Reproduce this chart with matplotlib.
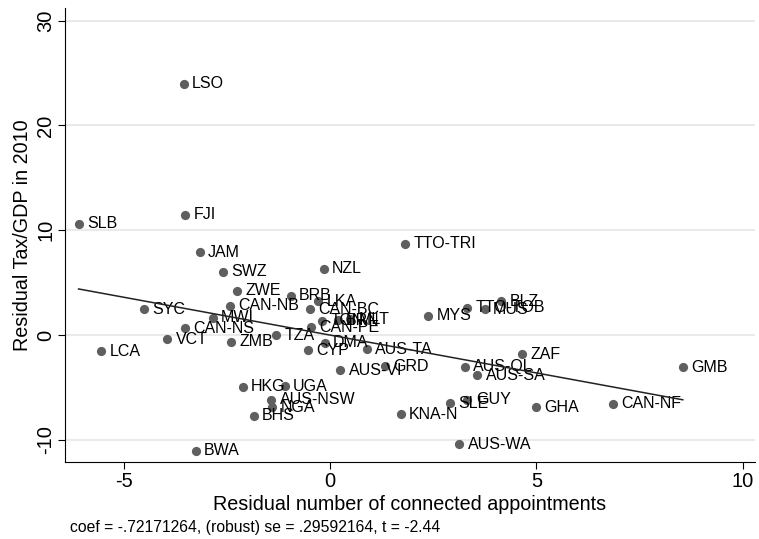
import matplotlib.pyplot as plt
import numpy as np

plt.rcParams['font.family'] = ['Liberation Sans', 'DejaVu Sans']
plt.rcParams['axes.unicode_minus'] = False

# residualised data
labels = ['LSO', 'FJI', 'SLB', 'JAM', 'TTO-TRI', 'SWZ', 'NZL', 'ZWE', 'BRB', 'LKA',
          'CAN-NB', 'CAN-BC', 'SYC', 'MWI', 'TON', 'BRN', 'MLT', 'MYS', 'TTO-TOB',
          'BLZ', 'MUS', 'CAN-NS', 'CAN-PE', 'VCT', 'TZA', 'ZMB', 'DMA', 'LCA', 'CYP',
          'AUS-TA', 'ZAF', 'GMB', 'GRD', 'AUS-VI', 'AUS-QL', 'AUS-SA', 'HKG', 'UGA',
          'AUS-NSW', 'NGA', 'BHS', 'KNA-N', 'SLE', 'GUY', 'GHA', 'CAN-NF', 'BWA',
          'AUS-WA']
x_resid = [-3.55, -3.52, -6.10, -3.16, 1.82, -2.60, -0.16, -2.26, -0.96, -0.29,
           -2.42, -0.48, -4.51, -2.85, -0.20, 0.18, 0.48, 2.38, 3.33,
           4.15, 3.75, -3.52, -0.47, -3.95, -1.31, -2.41, -0.13, -5.55, -0.54,
           0.89, 4.65, 8.55, 1.33, 0.25, 3.27, 3.57, -2.12, -1.10,
           -1.43, -1.40, -1.85, 1.71, 2.91, 3.33, 4.98, 6.85, -3.26,
           3.13]
y_resid = [24.0, 11.5, 10.6, 7.9, 8.73, 6.03, 6.35, 4.22, 3.74, 3.24,
           2.79, 2.48, 2.45, 1.65, 1.36, 1.43, 1.52, 1.84, 2.63,
           3.24, 2.45, 0.64, 0.76, -0.41, 0.0, -0.63, -0.73, -1.52, -1.43,
           -1.37, -1.81, -3.08, -2.95, -3.37, -3.02, -3.81, -4.95, -4.86,
           -6.19, -6.89, -7.71, -7.55, -6.50, -6.19, -6.89, -6.57, -11.05,
           -10.41]

coef = -0.72171264
se = 0.29592164
tstat = -2.44

fig = plt.figure(figsize=(7.59, 5.39), dpi=100)
ax = fig.add_axes([0.0856, 0.143, 0.909, 0.842])

ax.set_xlim(-6.43, 10.3)
ax.set_ylim(-12.1, 31.2)

ax.set_yticks([-10, 0, 10, 20, 30])
ax.set_xticks([-5, 0, 5, 10])
ax.set_yticklabels(['-10', '0', '10', '20', '30'], rotation=90, va='center')
ax.grid(axis='y', color='#eaeaea', lw=1.5)
ax.set_axisbelow(True)

for s in ['top', 'right']:
    ax.spines[s].set_visible(False)
ax.tick_params(direction='out', length=5, labelsize=14.5, colors='black')
ax.tick_params(axis='y', pad=2)
ax.tick_params(axis='x', pad=2)

ax.scatter(x_resid, y_resid, s=44, color='#5f5f5f', zorder=3, linewidths=0)
for lab, xv, yv in zip(labels, x_resid, y_resid):
    ax.annotate(lab, (xv, yv), xytext=(6, 0), textcoords='offset points',
                va='center', ha='left', fontsize=11.5, zorder=4)

xs = np.array([min(x_resid), max(x_resid)])
ax.plot(xs, coef * xs, color='#222222', lw=1.1, zorder=5)

ax.set_xlabel('Residual number of connected appointments', fontsize=14.2, labelpad=3)
ax.set_ylabel('Residual Tax/GDP in 2010', fontsize=14.2, labelpad=3)

note = 'coef = %.8f, (robust) se = %.8f, t = %.2f' % (coef, se, tstat)
note = note.replace('-0.', '-.').replace('= 0.', '= .')
fig.text(0.092, 0.022, note, fontsize=11.3, va='center')

fig.savefig('out.png', dpi=100)
